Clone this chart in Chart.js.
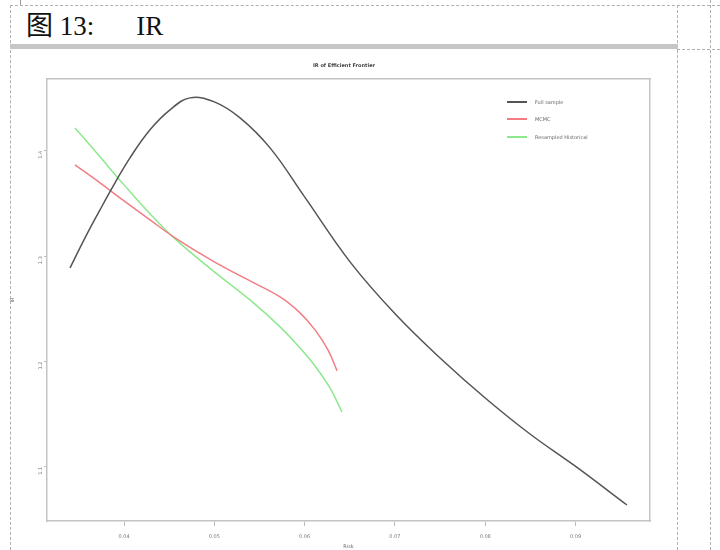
<!DOCTYPE html>
<html><head><meta charset="utf-8">
<script src="https://cdn.jsdelivr.net/npm/chart.js@4.4.1/dist/chart.umd.min.js"></script>
<style>
html,body{margin:0;padding:0;background:#fff;width:720px;height:550px;overflow:hidden;position:relative;}
.dl{position:absolute;border-color:#b0b0b0;border-style:dashed;border-width:0;}
#hdr{position:absolute;left:26px;top:9px;font-family:"Liberation Serif","Noto Sans CJK SC",serif;font-size:27px;line-height:34px;color:#111;white-space:pre;}
#bar{position:absolute;left:10px;top:44px;width:668px;height:5px;background:#c6c6c6;}
#wrap{position:absolute;left:10px;top:50px;width:668px;height:500px;}
#legend{position:absolute;left:507px;top:93px;font-family:"DejaVu Sans",sans-serif;font-size:5px;color:#666;}
#legend div{height:17.5px;display:flex;align-items:center;}
#legend span.ln{display:inline-block;width:20px;height:1.6px;margin-right:8px;}
</style></head>
<body>
<div class="dl" style="left:10px;top:5px;width:710px;border-top-width:1px;"></div>
<div style="position:absolute;left:20px;top:0;width:1px;height:5px;background:#999;"></div>
<div class="dl" style="left:10px;top:5px;height:545px;border-left-width:1px;"></div>
<div class="dl" style="left:677px;top:5px;height:545px;border-left-width:1px;"></div>
<div class="dl" style="left:710px;top:0px;height:550px;border-left-width:1px;"></div>
<div class="dl" style="left:677px;top:49px;width:43px;border-top-width:1px;"></div>
<div id="hdr">图 13:<span style="display:inline-block;width:42px"></span>IR</div>
<div id="bar"></div>
<div id="wrap"><canvas id="c" width="668" height="500"></canvas></div>
<div id="legend"></div>
<script>
const seriesNames = ["Full sample", "MCMC", "Resampled Historical"];
const fullRisk = [0.03402,0.03568,0.03734,0.03900,0.04066,0.04288,0.04509,0.04731,0.05000,0.05285,0.05617,0.06000,0.06503,0.07012,0.07500,0.08000,0.08496,0.08994,0.09570];
const fullIR   = [1.2889,1.3174,1.3440,1.3696,1.3934,1.4200,1.4389,1.4503,1.4465,1.4313,1.4028,1.3563,1.2946,1.2443,1.2034,1.1654,1.1312,1.1009,1.0638];
const mcmcRisk = [0.03457,0.03734,0.04000,0.04288,0.04565,0.05000,0.05395,0.05728,0.05949,0.06115,0.06259,0.06359];
const mcmcIR   = [1.3867,1.3696,1.3525,1.3345,1.3174,1.2946,1.2765,1.2613,1.2462,1.2300,1.2110,1.1911];
const resRisk  = [0.03457,0.03734,0.04000,0.04288,0.04565,0.05000,0.05395,0.05728,0.05949,0.06115,0.06281,0.06414];
const resIR    = [1.4218,1.3943,1.3677,1.3402,1.3164,1.2851,1.2585,1.2329,1.2129,1.1958,1.1749,1.1521];
const xTicks = [0.04,0.05,0.06,0.07,0.08,0.09];
const yTicks = [1.1,1.2,1.3,1.4];
const colors = ["#555555","#f27e84","#8ee88e"];

const pts = (xs, ys) => xs.map((x,i)=>({x:x,y:ys[i]}));
const sets = [pts(fullRisk,fullIR), pts(mcmcRisk,mcmcIR), pts(resRisk,resIR)];

const lg = document.getElementById('legend');
seriesNames.forEach((n,i)=>{
  const d=document.createElement('div');
  d.innerHTML='<span class="ln" style="background:'+colors[i]+'"></span>'+n;
  lg.appendChild(d);
});

const tickFont = {family:"DejaVu Sans", size:5};
new Chart(document.getElementById('c'), {
  type:'line',
  data:{datasets: sets.map((d,i)=>({label:seriesNames[i], data:d, borderColor:colors[i], borderWidth:1.5, pointRadius:0, fill:false, tension:0.4}))},
  options:{
    responsive:false, animation:false,
    layout:{padding:0},
    plugins:{
      legend:{display:false},
      tooltip:{enabled:false},
      title:{display:true, text:"IR of Efficient Frontier", color:"#444", font:{family:"DejaVu Sans", size:5, weight:'bold'}, padding:{top:13,bottom:9.8}}
    },
    scales:{
      x:{type:'linear', min:0.03147, max:0.09825,
        afterBuildTicks:s=>{s.ticks = xTicks.map(v=>({value:v}));},
        afterFit:s=>{s.height=29;},
        ticks:{font:tickFont, color:"#777", padding:8, maxRotation:0, callback:v=>v.toFixed(2)},
        grid:{display:true, drawOnChartArea:false, tickLength:5, color:"#bbb", tickColor:"#bbb"},
        border:{display:true, color:"#c4c4c4", width:1.5},
        title:{display:true, text:"Risk", color:"#666", font:{family:"DejaVu Sans", size:5}, padding:{top:0,bottom:0}}
      },
      y:{type:'linear', min:1.0486, max:1.4684,
        afterBuildTicks:s=>{s.ticks = yTicks.map(v=>({value:v}));},
        afterFit:s=>{s.width=37;},
        ticks:{font:tickFont, color:"#777", padding:3, minRotation:90, maxRotation:90, callback:v=>v.toFixed(1)},
        grid:{display:true, drawOnChartArea:false, tickLength:3, color:"#bbb", tickColor:"#bbb"},
        border:{display:true, color:"#c4c4c4", width:1.5},
        title:{display:true, text:"IR", color:"#666", font:{family:"DejaVu Sans", size:5}, padding:{top:0,bottom:4}}
      },
      x2:{type:'linear', position:'top', min:0, max:1,
        afterFit:s=>{s.height=0;},
        ticks:{display:false}, grid:{display:false},
        border:{display:true, color:"#c4c4c4", width:1.5}
      },
      y2:{type:'linear', position:'right', min:0, max:1,
        afterFit:s=>{s.width=28;},
        ticks:{display:false}, grid:{display:false},
        border:{display:true, color:"#c4c4c4", width:1.5}
      }
    }
  }
});
</script>
</body></html>
